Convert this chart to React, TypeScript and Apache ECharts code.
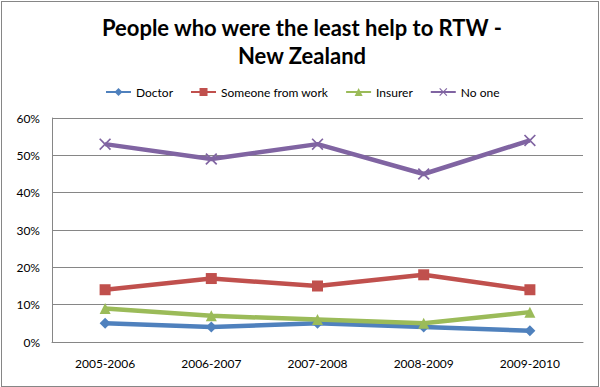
import React, { useEffect, useRef } from "react";
import * as echarts from "echarts";

const categories = ["2005-2006", "2006-2007", "2007-2008", "2008-2009", "2009-2010"];
const doctor = [5, 4, 5, 4, 3];
const someoneFromWork = [14, 17, 15, 18, 14];
const insurer = [9, 7, 6, 5, 8];
const noOne = [53, 49, 53, 45, 54];
const seriesNames = ["Doctor", "Someone from work", "Insurer", "No one"];
const yTicks = [0, 10, 20, 30, 40, 50, 60];
const titleLines = ["People who were the least help to RTW -", "New Zealand"];

const FONT = "Lato, 'Open Sans', sans-serif";
const X_SYMBOL = "path://M0,1L1,0L5,4L9,0L10,1L6,5L10,9L9,10L5,6L1,10L0,9L4,5Z";

export default function App() {
  const ref = useRef<HTMLDivElement>(null);
  useEffect(() => {
    const chart = echarts.init(ref.current!, null, { renderer: "svg" });
    const mk = (name: string, data: number[], color: string, symbol: string, size: number) => ({
      name,
      type: "line",
      data,
      symbol,
      symbolSize: size,
      lineStyle: { width: 4.5, color },
      itemStyle: { color },
      z: 2,
    });
    chart.setOption({
      animation: false,
      backgroundColor: "#ffffff",
      graphic: titleLines.map((t, i) => ({
        type: "text",
        x: 302,
        y: 27 + i * 28,
        style: {
          text: t,
          align: "center",
          verticalAlign: "middle",
          font: `bold 22px ${FONT}`,
          fill: "#000",
        },
      })),
      legend: {
        top: 81,
        left: 100,
        itemGap: 17,
        itemWidth: 25,
        itemHeight: 10,
        textStyle: { fontFamily: FONT, fontSize: 12, color: "#000" },
        data: seriesNames,
      },
      grid: { left: 52, right: 17, top: 118, bottom: 45 },
      xAxis: {
        type: "category",
        data: categories,
        boundaryGap: true,
        axisLine: { lineStyle: { color: "#868686" } },
        axisTick: { show: false },
        axisLabel: { fontFamily: FONT, fontSize: 12, color: "#000", margin: 15 },
      },
      yAxis: {
        type: "value",
        min: yTicks[0],
        max: yTicks[yTicks.length - 1],
        interval: 10,
        axisLine: { show: true, lineStyle: { color: "#868686" } },
        axisTick: { show: false },
        splitLine: { lineStyle: { color: "#868686" } },
        axisLabel: { fontFamily: FONT, fontSize: 12, color: "#000", margin: 12, formatter: "{value}%" },
      },
      series: [
        mk(seriesNames[0], doctor, "#4F81BD", "diamond", 11),
        mk(seriesNames[1], someoneFromWork, "#C0504D", "rect", 11),
        mk(seriesNames[2], insurer, "#9BBB59", "triangle", 11),
        mk(seriesNames[3], noOne, "#8064A2", X_SYMBOL, 12),
      ],
    });
    return () => chart.dispose();
  }, []);
  return (
    <div style={{ position: "fixed", left: 0, top: 0, width: 600, height: 387, background: "#fff" }}>
      <div ref={ref} style={{ width: 600, height: 387 }} />
      <div
        style={{
          position: "absolute",
          left: 1,
          top: 1,
          width: 596,
          height: 384,
          border: "1px solid #868686",
          pointerEvents: "none",
        }}
      />
    </div>
  );
}
